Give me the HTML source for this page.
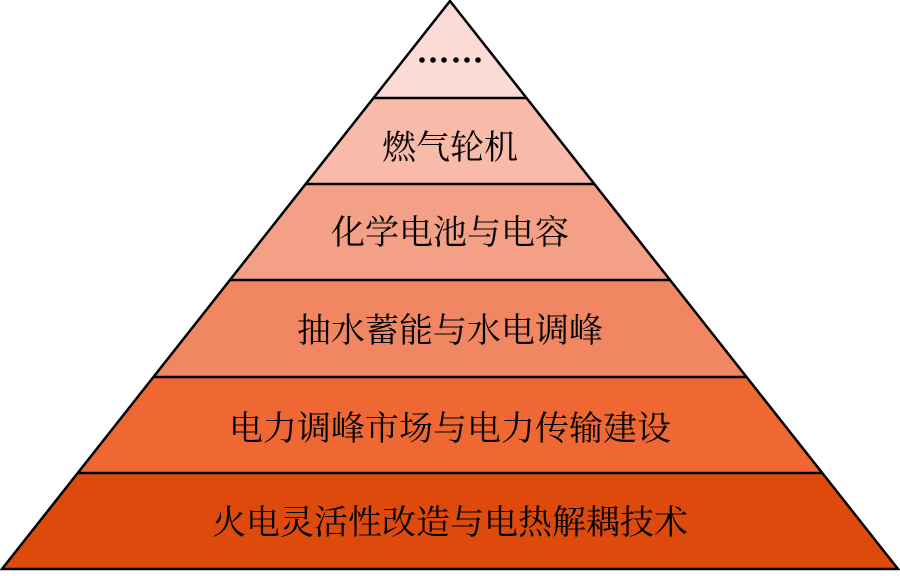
<!DOCTYPE html>
<html><head><meta charset="utf-8"><style>html,body{margin:0;padding:0;background:#fff}</style></head>
<body>
<svg width="900" height="571" viewBox="0 0 900 571" xmlns="http://www.w3.org/2000/svg" font-family="'Liberation Serif','Noto Serif CJK SC',serif" font-size="34" text-anchor="middle">
<polygon points="450,1 526.5,98 373.5,98" fill="#FCDBD6"/>
<polygon points="373.5,98 526.5,98 594.3,184 305.7,184" fill="#F8BAA9"/>
<polygon points="305.7,184 594.3,184 670.1,280 229.9,280" fill="#F4A086"/>
<polygon points="229.9,280 670.1,280 746.6,377 153.4,377" fill="#F18663"/>
<polygon points="153.4,377 746.6,377 822.3,473 77.7,473" fill="#EF6834"/>
<polygon points="77.7,473 822.3,473 898,569 2,569" fill="#DE4A0C"/>
<g stroke="#000" stroke-width="2.5" fill="none">
<polygon points="450,1 898,569 2,569"/>
<line x1="373.5" y1="98" x2="526.5" y2="98"/>
<line x1="305.7" y1="184" x2="594.3" y2="184"/>
<line x1="229.9" y1="280" x2="670.1" y2="280"/>
<line x1="153.4" y1="377" x2="746.6" y2="377"/>
<line x1="77.7" y1="473" x2="822.3" y2="473"/>
</g>
<g fill="#000">
<circle cx="422" cy="60" r="2.8"/><circle cx="433" cy="60" r="2.8"/><circle cx="444" cy="60" r="2.8"/><circle cx="456" cy="60" r="2.8"/><circle cx="467" cy="60" r="2.8"/><circle cx="478" cy="60" r="2.8"/>
<text x="450" y="159">燃气轮机</text>
<text x="450" y="244">化学电池与电容</text>
<text x="450" y="342">抽水蓄能与水电调峰</text>
<text x="450" y="440">电力调峰市场与电力传输建设</text>
<text x="450" y="534">火电灵活性改造与电热解耦技术</text>
</g>
</svg>
</body></html>
